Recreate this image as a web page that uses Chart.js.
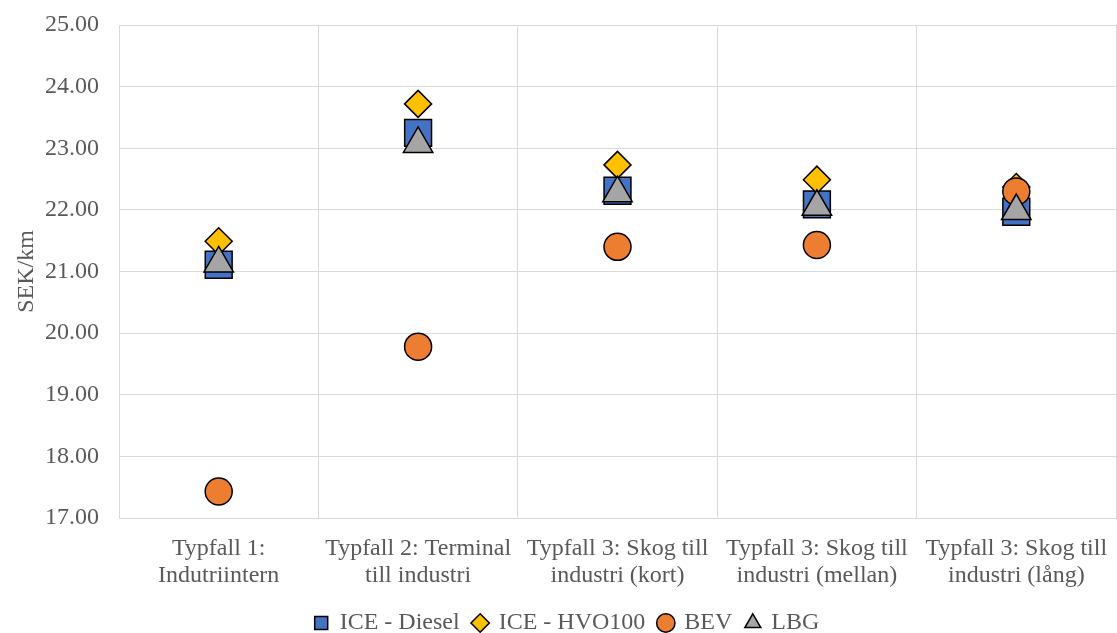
<!DOCTYPE html>
<html>
<head>
<meta charset="utf-8">
<script src="https://cdn.jsdelivr.net/npm/chart.js@4"></script>
<style>
  html, body { margin: 0; padding: 0; background: #fff; }
  #wrap { width: 1117px; height: 633px; }
</style>
</head>
<body>
<div id="wrap"><canvas id="c" width="1117" height="633"></canvas></div>
<script>
// Cost per km for each transport case and drivetrain
const categories = [
  ['Typfall 1:', 'Indutriintern'],
  ['Typfall 2: Terminal', 'till industri'],
  ['Typfall 3: Skog till', 'industri (kort)'],
  ['Typfall 3: Skog till', 'industri (mellan)'],
  ['Typfall 3: Skog till', 'industri (lång)']
];
const iceDiesel = [21.11, 23.25, 22.31, 22.09, 21.97];
const iceHvo100 = [21.49, 23.72, 22.73, 22.49, 22.37];
const bev = [17.43, 19.78, 21.40, 21.43, 22.30];
const lbg = [21.13, 23.07, 22.27, 22.05, 21.98];
const yTicks = [17, 18, 19, 20, 21, 22, 23, 24, 25];

const FONT = '"Liberation Serif", "Times New Roman", serif';
const TEXT = '#595959';
const GRID = '#D9D9D9';
const PLOT_BOTTOM = 518;
const PAD_BOTTOM = -12;
const LEGEND_SHIFT = 9;

// later series sit on top of earlier ones
function series(label, data, style, color, radius, order) {
  return {
    label, data, order,
    showLine: false,
    pointStyle: style,
    pointRadius: radius,
    pointHoverRadius: radius,
    pointBackgroundColor: color,
    backgroundColor: color,
    pointBorderColor: '#000',
    borderColor: '#000',
    pointBorderWidth: 1.5,
    borderWidth: 1.5
  };
}

// nudge the legend row slightly to the right of centre
const legendNudge = {
  id: 'legendNudge',
  afterLayout(chart) {
    if (chart.legend) {
      chart.legend.left += LEGEND_SHIFT;
      chart.legend.right += LEGEND_SHIFT;
    }
  }
};

new Chart(document.getElementById('c'), {
  type: 'line',
  data: {
    labels: categories,
    datasets: [
      series('ICE - Diesel', iceDiesel, 'rect', '#4472C4', 19, 4),
      series('ICE - HVO100', iceHvo100, 'rectRot', '#FFC000', 13.5, 3),
      series('BEV', bev, 'circle', '#ED7D31', 13.5, 2),
      series('LBG', lbg, 'triangle', '#A5A5A5', 17, 1)
    ]
  },
  plugins: [legendNudge],
  options: {
    responsive: false,
    animation: false,
    layout: {
      autoPadding: false,
      padding: { top: 25, right: 1, left: 0, bottom: PAD_BOTTOM }
    },
    plugins: {
      tooltip: { enabled: false },
      legend: {
        position: 'bottom',
        labels: {
          usePointStyle: true,
          boxWidth: 13,
          boxHeight: 13,
          padding: 14,
          color: TEXT,
          font: { family: FONT, size: 24 },
          sort: (a, b) => a.datasetIndex - b.datasetIndex
        }
      }
    },
    scales: {
      x: {
        type: 'category',
        offset: true,
        grid: { offset: true, color: GRID, lineWidth: 1, drawTicks: false },
        border: { color: GRID },
        ticks: {
          color: TEXT,
          padding: 17,
          maxRotation: 0,
          autoSkip: false,
          font: { family: FONT, size: 24, lineHeight: 1.13 }
        },
        afterFit(scale) {
          const lg = scale.chart.legend ? scale.chart.legend.height : 0;
          scale.height = scale.chart.height - PAD_BOTTOM - PLOT_BOTTOM - lg;
          scale.paddingLeft = 0;
          scale.paddingRight = 0;
        }
      },
      y: {
        min: 17,
        max: 25,
        afterBuildTicks(scale) {
          scale.ticks = yTicks.map(v => ({ value: v }));
        },
        grid: { color: GRID, lineWidth: 1, drawTicks: false },
        border: { color: GRID },
        ticks: {
          color: TEXT,
          padding: 20,
          font: { family: FONT, size: 24 },
          callback: v => Number(v).toFixed(2)
        },
        title: {
          display: true,
          text: 'SEK/km',
          color: TEXT,
          padding: { top: 12, bottom: 0 },
          font: { family: FONT, size: 24 }
        },
        afterFit(scale) {
          scale.width = 119;
          scale.paddingTop = 0;
          scale.paddingBottom = 0;
        }
      }
    }
  }
});
</script>
</body>
</html>
